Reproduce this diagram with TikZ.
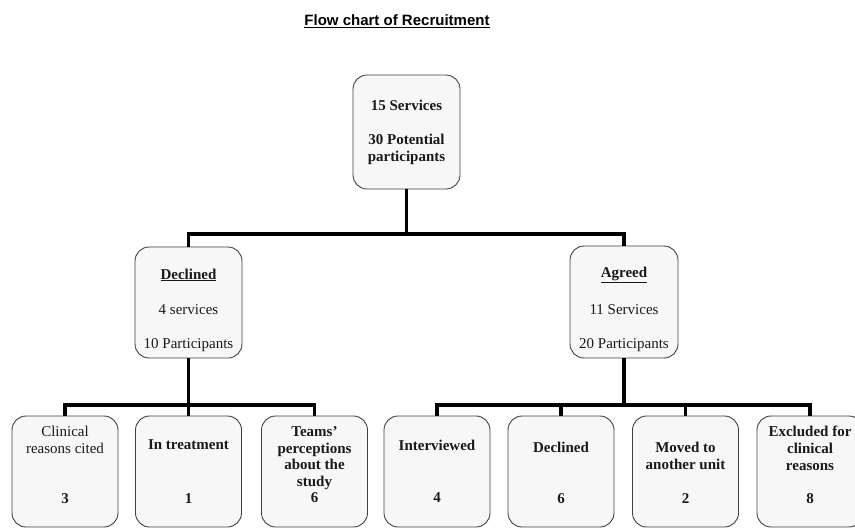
\documentclass[tikz,border=0pt]{standalone}
\usepackage{fontspec}
\setmainfont{Liberation Serif}
\newfontfamily\arialfont{Liberation Sans}
\begin{document}
\begin{tikzpicture}[x=1pt,y=-1pt,
  box/.style={draw=black!75, fill=black!3, rounded corners=14pt, line width=0.9pt, inner sep=0pt, minimum width=106pt},
  txt/.style={font=\fontsize{15}{17}\selectfont, align=center, inner sep=0pt, text=black!90},
  conn/.style={line width=3.3pt, black}]
\useasboundingbox (0,0) rectangle (855,528);
\clip (0,0) rectangle (855,528);
% title
\node[font=\arialfont\bfseries\fontsize{15}{17}\selectfont, inner sep=0pt] (title) at (397,21) {\underline{Flow chart of Recruitment}};
% top box
\node[box, minimum width=107pt, minimum height=114pt] (top) at (406.5,132) {};
\node[txt, font=\bfseries\fontsize{15}{17}\selectfont] (top1) at (406.5,105) {15 Services};
\node[txt, font=\bfseries\fontsize{15}{17}\selectfont] (top2) at (406.5,149) {30 Potential\\participants};
% second level
\node[box, minimum width=107pt, minimum height=111pt] (decl) at (188.5,302.5) {};
\node[txt, font=\bfseries\fontsize{15}{17}\selectfont] (decl1) at (188.5,275) {\underline{Declined}};
\node[txt] (decl2) at (188.5,310) {4 services};
\node[txt] (decl3) at (188.5,345) {10 Participants};
\node[box, minimum width=108pt, minimum height=112pt] (agr) at (624,302) {};
\node[txt, font=\bfseries\fontsize{15}{17}\selectfont] (agr1) at (624,275) {\underline{Agreed}};
\node[txt] (agr2) at (624,310) {11 Services};
\node[txt] (agr3) at (624,345) {20 Participants};
% bottom boxes
\foreach \n/\x in {b1/65,b2/188.5,b3/314.5,b4/437,b5/561,b6/685.5,b7/810}{
  \node[box, minimum height=111pt] (\n) at (\x,471.5) {};
}
\node[txt] (b1t) at (65,440) {Clinical\\reasons cited};
\node[txt, font=\bfseries\fontsize{15}{17}\selectfont] (b1n) at (65,499) {3};
\node[txt, font=\bfseries\fontsize{15}{17}\selectfont] (b2t) at (188.5,445) {In treatment};
\node[txt, font=\bfseries\fontsize{15}{17}\selectfont] (b2n) at (188.5,499) {1};
\node[txt, font=\bfseries\fontsize{15}{16.5}\selectfont] (b3t) at (314.5,465) {Teams'\\perceptions\\about the\\study\\6};
\node[txt, font=\bfseries\fontsize{15}{17}\selectfont] (b4t) at (437,445) {Interviewed};
\node[txt, font=\bfseries\fontsize{15}{17}\selectfont] (b4n) at (437,498) {4};
\node[txt, font=\bfseries\fontsize{15}{17}\selectfont] (b5t) at (561,447) {Declined};
\node[txt, font=\bfseries\fontsize{15}{17}\selectfont] (b5n) at (561,499) {6};
\node[txt, font=\bfseries\fontsize{15}{17}\selectfont] (b6t) at (685.5,456) {Moved to\\another unit};
\node[txt, font=\bfseries\fontsize{15}{17}\selectfont] (b6n) at (685.5,499) {2};
\node[txt, font=\bfseries\fontsize{15}{17}\selectfont] (b7t) at (810,448) {Excluded for\\clinical\\reasons};
\node[txt, font=\bfseries\fontsize{15}{17}\selectfont] (b7n) at (810,499) {8};
% junctions
\coordinate (j1) at (406.5,234);
\coordinate (j2) at (188.5,405);
\coordinate (j3) at (624,405);
% connectors
\draw[conn] (top.south) -- (j1);
\draw[conn] (decl.north) |- (j1) -| (agr.north);
\draw[conn] (decl.south) -- (j2);
\draw[conn] (b1.north) |- (j2) -| (b3.north);
\draw[conn] (b2.north) -- (j2);
\draw[conn] (agr.south) -- (j3);
\draw[conn] (b4.north) |- (j3) -| (b7.north);
\draw[conn] (b5.north) |- (j3);
\draw[conn] (b6.north) |- (j3);
\end{tikzpicture}
\end{document}
